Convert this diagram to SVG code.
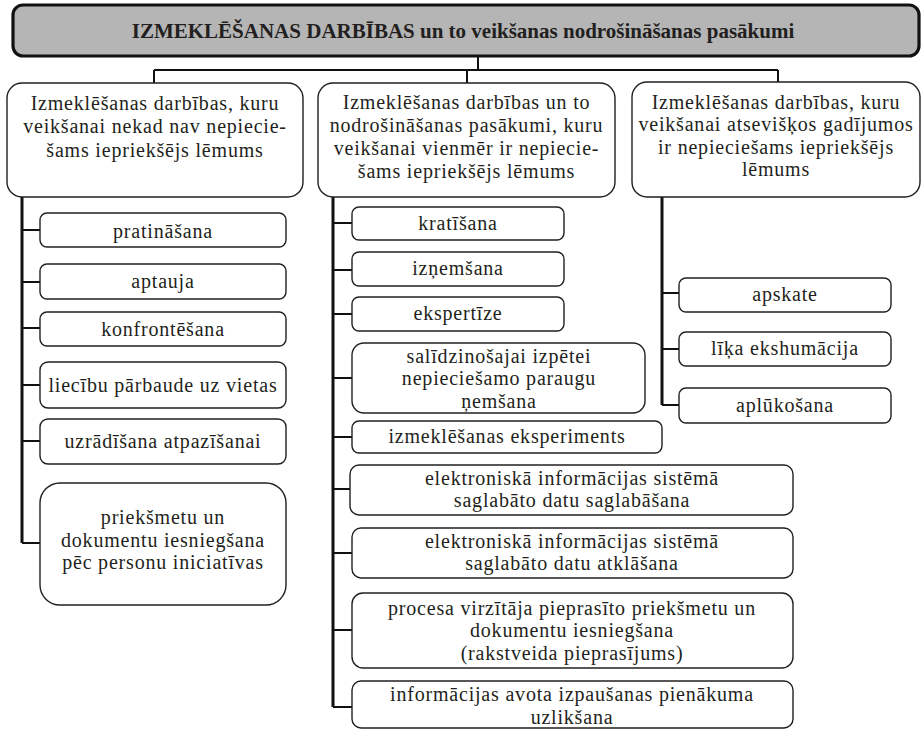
<svg xmlns="http://www.w3.org/2000/svg" width="922" height="731" viewBox="0 0 922 731">
<style>
text{font-family:"Liberation Serif","Times New Roman",serif;fill:#231f20;text-anchor:middle;font-size:20px;letter-spacing:0.8px}
.t{font-weight:bold;font-size:21px;letter-spacing:0}
.box{fill:#fff;stroke:#231f20;stroke-width:1.4}
.hdr{fill:#b5b5b5;stroke:#111;stroke-width:3.2}
.c{fill:none;stroke:#111;stroke-width:2}
.trunk{fill:none;stroke:#111;stroke-width:3}
</style>
<rect width="922" height="731" fill="#fff"/>
<g id="connectors">
<path class="c" d="M478 56V70M154 70H778M154 70V83M467 70V83M778 70V82"/>
<path class="trunk" d="M22 197V543"/>
<path class="c" d="M22 230H40M22 282H40M22 328H40M22 385H40M22 441H40M22 543H40"/>
<path class="trunk" d="M333 197V707"/>
<path class="c" d="M333 223H352M333 270H352M333 314H352M333 378H352M333 437H352M333 489H350M333 553H352M333 630H352M333 707H352"/>
<path class="trunk" d="M662 197V405"/>
<path class="c" d="M662 293H679M662 349H679M662 405H679"/>
</g>
<g id="root">
<rect class="hdr" x="13" y="5" width="906" height="51" rx="10"/>
<text class="t" x="463" y="38">IZMEKLĒŠANAS DARBĪBAS un to veikšanas nodrošināšanas pasākumi</text>
</g>
<g id="col-left">
<rect class="box" x="7" y="83" width="296" height="114" rx="15"/>
<text x="155" y="109.5">Izmeklēšanas darbības, kuru<tspan x="155" dy="23.5">veikšanai nekad nav nepiecie-</tspan><tspan x="155" dy="23.5">šams iepriekšējs lēmums</tspan></text>
</g>
<g id="col-mid">
<rect class="box" x="318" y="83" width="297" height="114" rx="15"/>
<text x="466.5" y="109">Izmeklēšanas darbības un to<tspan x="466.5" dy="23">nodrošināšanas pasākumi, kuru</tspan><tspan x="466.5" dy="23">veikšanai vienmēr ir nepiecie-</tspan><tspan x="466.5" dy="22.5">šams iepriekšējs lēmums</tspan></text>
</g>
<g id="col-right">
<rect class="box" x="632" y="82" width="288" height="115" rx="15"/>
<text x="776" y="108.5">Izmeklēšanas darbības, kuru<tspan x="776" dy="22.5">veikšanai atsevišķos gadījumos</tspan><tspan x="776" dy="22.5">ir nepieciešams iepriekšējs</tspan><tspan x="776" dy="22.5">lēmums</tspan></text>
</g>
<g id="l1"><rect class="box" x="40" y="213" width="246" height="34" rx="7"/><text x="163" y="237.5">pratināšana</text></g>
<g id="l2"><rect class="box" x="40" y="264" width="246" height="35" rx="7"/><text x="163" y="288">aptauja</text></g>
<g id="l3"><rect class="box" x="40" y="312" width="246" height="34" rx="7"/><text x="163" y="335.5">konfrontēšana</text></g>
<g id="l4"><rect class="box" x="40" y="362" width="246" height="46" rx="8"/><text x="163" y="391.5">liecību pārbaude uz vietas</text></g>
<g id="l5"><rect class="box" x="40" y="419" width="246" height="45" rx="8"/><text x="163" y="447.5">uzrādīšana atpazīšanai</text></g>
<g id="l6"><rect class="box" x="40" y="483" width="246" height="122" rx="20"/>
<text x="163" y="523.5">priekšmetu un<tspan x="163" dy="23">dokumentu iesniegšana</tspan><tspan x="163" dy="22.5">pēc personu iniciatīvas</tspan></text></g>
<g id="m1"><rect class="box" x="352" y="207" width="212" height="33" rx="7"/><text x="458" y="229.5">kratīšana</text></g>
<g id="m2"><rect class="box" x="352" y="252" width="212" height="34" rx="7"/><text x="458" y="275">izņemšana</text></g>
<g id="m3"><rect class="box" x="352" y="297" width="212" height="34" rx="7"/><text x="458" y="320">ekspertīze</text></g>
<g id="m4"><rect class="box" x="352" y="343" width="293" height="70" rx="12"/>
<text x="499" y="362.5">salīdzinošajai izpētei<tspan x="499" dy="22.5">nepieciešamo paraugu</tspan><tspan x="499" dy="22.5">ņemšana</tspan></text></g>
<g id="m5"><rect class="box" x="352" y="421" width="310" height="32" rx="7"/><text x="507" y="442.5">izmeklēšanas eksperiments</text></g>
<g id="m6"><rect class="box" x="350" y="465" width="443" height="50" rx="9"/>
<text x="572" y="484.5">elektroniskā informācijas sistēmā<tspan x="572" dy="22.5">saglabāto datu saglabāšana</tspan></text></g>
<g id="m7"><rect class="box" x="352" y="528" width="441" height="50" rx="9"/>
<text x="572" y="547.5">elektroniskā informācijas sistēmā<tspan x="572" dy="22.5">saglabāto datu atklāšana</tspan></text></g>
<g id="m8"><rect class="box" x="352" y="593" width="441" height="75" rx="11"/>
<text x="572" y="614.5">procesa virzītāja pieprasīto priekšmetu un<tspan x="572" dy="22.5">dokumentu iesniegšana</tspan><tspan x="572" dy="22.5">(rakstveida pieprasījums)</tspan></text></g>
<g id="m9"><rect class="box" x="352" y="681" width="441" height="47" rx="9"/>
<text x="572" y="701">informācijas avota izpaušanas pienākuma<tspan x="572" dy="22.5">uzlikšana</tspan></text></g>
<g id="r1"><rect class="box" x="679" y="278" width="212" height="34" rx="7"/><text x="785" y="300.5">apskate</text></g>
<g id="r2"><rect class="box" x="679" y="332" width="212" height="34" rx="7"/><text x="785" y="354.5">līķa ekshumācija</text></g>
<g id="r3"><rect class="box" x="679" y="388" width="212" height="35" rx="7"/><text x="785" y="411.5">aplūkošana</text></g>
</svg>
